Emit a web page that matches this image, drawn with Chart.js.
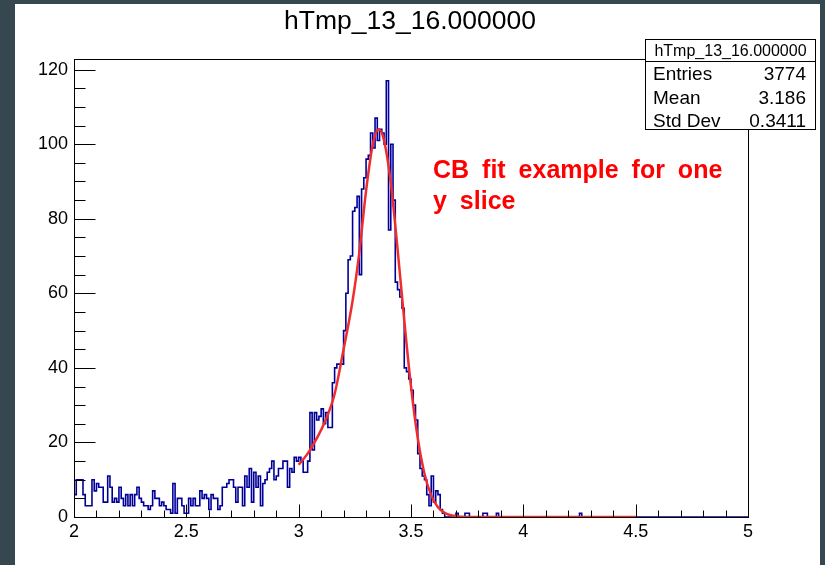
<!DOCTYPE html>
<html>
<head>
<meta charset="utf-8">
<script src="https://cdn.jsdelivr.net/npm/chart.js@4.4.1/dist/chart.umd.min.js"></script>
<style>
  html, body { margin: 0; padding: 0; background: #37474f; }
  canvas { display: block; }
</style>
</head>
<body>
<canvas id="histCanvas" width="825" height="565"></canvas>
<script>
// histogram binning: 300 bins of 0.01 between 2 and 5
const xMin = 2;
const xMax = 5;
const binWidth = 0.01;

// bin contents, one per bin starting at x = 2.00
const counts = [
  6, 10, 10, 10, 6, 3, 3, 3, 10, 7,
  9, 8, 8, 4, 4, 11, 8, 4, 5, 4,
  8, 5, 3, 6, 3, 6, 3, 6, 8, 5,
  4, 3, 3, 2, 3, 7, 5, 5, 3, 4,
  3, 2, 2, 1, 9, 1, 5, 5, 3, 1,
  1, 5, 3, 5, 3, 3, 7, 5, 6, 5,
  2, 6, 5, 5, 2, 3, 8, 8, 9, 10,
  10, 8, 4, 8, 8, 3, 11, 8, 13, 4,
  12, 8, 11, 3, 9, 10, 12, 13, 15, 10,
  11, 13, 13, 15, 15, 8, 13, 12, 16, 15,
  16, 15, 12, 12, 15, 28, 18, 28, 26, 27,
  29, 25, 28, 24, 24, 36, 40, 41, 41, 41,
  50, 60, 69, 70, 82, 83, 86, 65, 88, 91,
  96, 97, 103, 99, 107, 101, 104, 103, 100, 117,
  77, 100, 85, 63, 61, 59, 56, 40, 39, 37,
  34, 30, 26, 17, 13, 11, 10, 6, 3, 11,
  4, 7, 6, 2, 1, 0, 0, 0, 0, 0,
  1, 0, 0, 0, 1, 1, 0, 0, 0, 0,
  0, 0, 1, 1, 0, 0, 0, 0, 1, 0,
  0, 0, 0, 0, 0, 0, 0, 0, 0, 0,
  0, 0, 0, 0, 0, 0, 0, 0, 0, 0,
  0, 0, 0, 0, 0, 0, 0, 0, 0, 0,
  0, 0, 0, 0, 0, 1, 0, 0, 0, 0,
  0, 0, 0, 0, 0, 0, 0, 0, 0, 0,
  0, 0, 0, 0, 0, 0, 0, 0, 0, 0,
  0, 0, 0, 0, 0, 0, 0, 0, 0, 0,
  0, 0, 0, 0, 0, 0, 0, 0, 0, 0,
  0, 0, 0, 0, 0, 0, 0, 0, 0, 0,
  0, 0, 0, 0, 0, 0, 0, 0, 0, 0,
  0, 0, 0, 0, 0, 0, 0, 0, 0, 0
];

// Crystal Ball fit curve, sampled
const fitX = [3.00, 3.04, 3.08, 3.12, 3.16, 3.20, 3.24, 3.27, 3.30, 3.33, 3.357, 3.38,
              3.41, 3.44, 3.47, 3.50, 3.53, 3.56, 3.59, 3.62, 3.65, 3.70, 3.75, 3.80, 4.00, 4.50];
const fitY = [14, 17, 21, 26, 33, 45, 58, 71, 87.5, 100, 104, 101,
              89.6, 72, 52.8, 35, 21.2, 11.6, 5.8, 2.6, 1.1, 0.2, 0, 0, 0, 0];

const yMax = 122.85;
const xTickStep = 0.5, xMinorStep = 0.1;
const yTickStep = 20, yMinorStep = 5;

const histName = 'hTmp_13_16.000000';
const statsLabels = ['Entries', 'Mean', 'Std Dev'];
const statsValues = ['3774', '3.186', '0.3411'];
const noteLines = ['CB fit example for one', 'y slice'];

const FONT = "'Liberation Sans', Arial, sans-serif";

// step outline: one point per bin left edge, plus the closing edge
const histPoints = counts.map((c, i) => ({ x: xMin + i * binWidth, y: c }));
histPoints.push({ x: xMax, y: counts[counts.length - 1] });
const fitPoints = fitX.map((x, i) => ({ x: x, y: fitY[i] }));

// dark surround and white pad
const padBackground = {
  id: 'padBackground',
  beforeDraw(chart) {
    const ctx = chart.ctx;
    ctx.save();
    ctx.fillStyle = '#37474f';
    ctx.fillRect(0, 0, chart.width, chart.height);
    ctx.fillStyle = '#ffffff';
    ctx.fillRect(15, 4, 805, chart.height - 4);
    ctx.restore();
  }
};

// frame box with inward major/minor ticks
const frameTicks = {
  id: 'frameTicks',
  afterDatasetsDraw(chart) {
    const { ctx, chartArea: a, scales } = chart;
    ctx.save();
    ctx.strokeStyle = '#000';
    ctx.lineWidth = 1;
    const L = Math.round(a.left) + 0.5, R = Math.round(a.right) + 0.5;
    const T = Math.round(a.top) + 0.5, B = Math.round(a.bottom) + 0.5;
    ctx.strokeRect(L, T, R - L, B - T);

    ctx.beginPath();
    for (let v = 0; v <= yMax + 1e-9; v += yMinorStep) {
      const y = Math.round(scales.y.getPixelForValue(v)) + 0.5;
      const len = (Math.round(v) % yTickStep === 0) ? 21 : 11;
      ctx.moveTo(L, y);
      ctx.lineTo(L + len, y);
    }
    for (let k = 0; k <= Math.round((xMax - xMin) / xMinorStep); k++) {
      const v = xMin + k * xMinorStep;
      const x = Math.round(scales.x.getPixelForValue(v)) + 0.5;
      const len = (k % Math.round(xTickStep / xMinorStep) === 0) ? 13 : 7;
      ctx.moveTo(x, B);
      ctx.lineTo(x, B - len);
    }
    ctx.stroke();
    ctx.restore();
  }
};

// title, stats box and fit note
const decorations = {
  id: 'decorations',
  afterDraw(chart) {
    const ctx = chart.ctx;
    ctx.save();

    ctx.fillStyle = '#000';
    ctx.font = '26.5px ' + FONT;
    ctx.textAlign = 'center';
    ctx.textBaseline = 'alphabetic';
    ctx.fillText(histName, 410, 29);

    // stats box
    const bx = 645.5, by = 39.5, bw = 170, bh = 90;
    ctx.fillStyle = '#fff';
    ctx.fillRect(bx, by, bw, bh);
    ctx.strokeStyle = '#000';
    ctx.lineWidth = 1;
    ctx.strokeRect(bx, by, bw, bh);
    ctx.beginPath();
    ctx.moveTo(bx, 61.5);
    ctx.lineTo(bx + bw, 61.5);
    ctx.stroke();

    ctx.fillStyle = '#000';
    ctx.font = '16px ' + FONT;
    ctx.textAlign = 'center';
    ctx.fillText(histName, bx + bw / 2, 56);

    ctx.font = '19px ' + FONT;
    const rowBase = [80, 104, 127];
    statsLabels.forEach((lab, i) => {
      ctx.textAlign = 'left';
      ctx.fillText(lab, 653, rowBase[i]);
      ctx.textAlign = 'right';
      ctx.fillText(statsValues[i], 806, rowBase[i]);
    });

    // fit note
    ctx.fillStyle = '#ff0000';
    ctx.font = 'bold 25px ' + FONT;
    ctx.textAlign = 'left';
    ctx.wordSpacing = '6px';
    ctx.fillText(noteLines[0], 433, 178);
    ctx.fillText(noteLines[1], 433, 209);

    ctx.restore();
  }
};

new Chart(document.getElementById('histCanvas').getContext('2d'), {
  type: 'line',
  data: {
    datasets: [
      {
        label: 'fit',
        data: fitPoints,
        borderColor: 'rgb(240, 45, 45)',
        borderWidth: 2.5,
        pointRadius: 0,
        cubicInterpolationMode: 'monotone',
        fill: false,
        order: 0
      },
      {
        label: histName,
        data: histPoints,
        borderColor: '#000099',
        borderWidth: 1.6,
        pointRadius: 0,
        stepped: 'before',
        fill: false,
        order: 1
      }
    ]
  },
  options: {
    responsive: false,
    animation: false,
    devicePixelRatio: 1,
    layout: { padding: { left: 14, right: 77, top: 59, bottom: 17 } },
    plugins: {
      legend: { display: false },
      tooltip: { enabled: false },
      title: { display: false }
    },
    scales: {
      x: {
        type: 'linear',
        min: xMin,
        max: xMax,
        afterFit: (s) => { s.height = 31; },
        grid: { display: false, drawTicks: false },
        border: { display: false },
        ticks: {
          stepSize: xTickStep,
          includeBounds: false,
          autoSkip: false,
          maxRotation: 0,
          padding: 4,
          color: '#000',
          font: { family: FONT, size: 18 },
          callback: (v) => String(Math.round(v * 10) / 10)
        }
      },
      y: {
        type: 'linear',
        min: 0,
        max: yMax,
        afterFit: (s) => { s.width = 60; },
        grid: { display: false, drawTicks: false },
        border: { display: false },
        ticks: {
          stepSize: yTickStep,
          includeBounds: false,
          autoSkip: false,
          padding: 6,
          color: '#000',
          font: { family: FONT, size: 18 }
        }
      }
    }
  },
  plugins: [padBackground, frameTicks, decorations]
});
</script>
</body>
</html>
